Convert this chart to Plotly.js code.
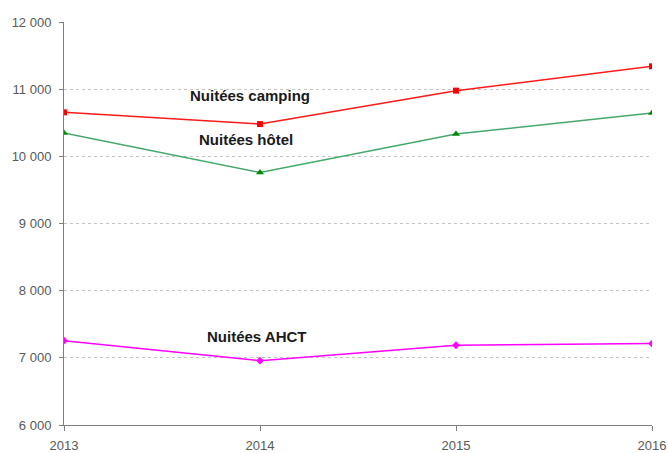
<!DOCTYPE html>
<html><head><meta charset="utf-8">
<script src="https://cdn.plot.ly/plotly-3.0.1.min.js"></script>
<style>html,body{margin:0;padding:0;background:#fff}#c{width:668px;height:453px}</style>
</head><body><div id="c"></div>
<script>
var years = [2013, 2014, 2015, 2016];
var camping = [10655, 10480, 10978, 11340];
var hotel = [10347, 9760, 10333, 10645];
var ahct = [7256, 6958, 7187, 7212];
var yTicks = [6000, 7000, 8000, 9000, 10000, 11000, 12000];
var labels = ["Nuitées camping", "Nuitées hôtel", "Nuitées AHCT"];

var traces = [
  {x: years, y: camping, mode: 'lines+markers', line: {color: '#ff1a1a', width: 1.5},
   marker: {symbol: 'square', size: 6, color: '#ff0000'}},
  {x: years, y: hotel, mode: 'lines+markers', line: {color: '#45a86a', width: 1.5},
   marker: {symbol: 'triangle-up', size: 7, color: '#008a00'}},
  {x: years, y: ahct, mode: 'lines+markers', line: {color: '#ff00ff', width: 1.5},
   marker: {symbol: 'diamond', size: 6, color: '#ff00ff'}}
];
var fnt = {family: '"Liberation Sans Narrow", "Arial Narrow", "Liberation Sans", Arial, sans-serif', size: 15, color: '#1a1a1a', weight: 'bold'};
var layout = {
  width: 668, height: 453,
  margin: {l: 64, r: 16, t: 22, b: 28},
  paper_bgcolor: '#fff', plot_bgcolor: '#fff',
  showlegend: false,
  separators: ', ',
  font: {family: '"Liberation Sans", Arial, sans-serif', size: 13, color: '#595959'},
  xaxis: {range: [2013, 2016], tickvals: years, ticktext: years.map(String),
    showgrid: false, zeroline: false, showline: true, linecolor: '#7f7f7f', linewidth: 1,
    ticks: 'outside', ticklen: 5, tickcolor: '#7f7f7f', ticklabelstandoff: 3,
    tickfont: {size: 13, color: '#595959'}},
  yaxis: {range: [6000, 12000], tickvals: yTicks, tickformat: ',d', separatethousands: true,
    showgrid: true, gridcolor: '#c4c4c4', griddash: 'dot', gridwidth: 1, zeroline: false,
    showline: true, linecolor: '#7f7f7f', linewidth: 1, ticks: 'outside', ticklen: 4, tickcolor: '#7f7f7f',
    ticklabelstandoff: 5, tickfont: {size: 13, color: '#595959'}},
  annotations: [
    {x: 2013.95, y: 10903, text: labels[0], showarrow: false, font: fnt},
    {x: 2013.93, y: 10247, text: labels[1], showarrow: false, font: fnt},
    {x: 2013.98, y: 7311, text: labels[2], showarrow: false, font: fnt}
  ]
};
Plotly.newPlot('c', traces, layout, {staticPlot: true});
</script></body></html>
